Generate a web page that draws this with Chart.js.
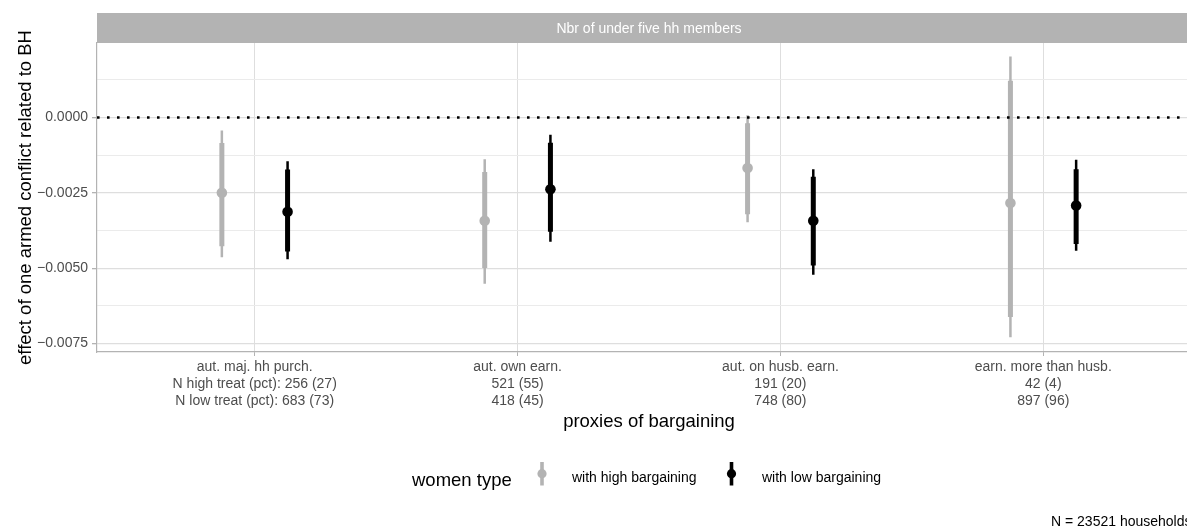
<!DOCTYPE html>
<html>
<head>
<meta charset="utf-8">
<script src="https://cdn.jsdelivr.net/npm/chart.js@4.4.1/dist/chart.umd.min.js"></script>
<style>
  html, body { margin: 0; padding: 0; background: #ffffff; overflow: hidden; width: 1187px; height: 527px; }
  canvas { display: block; }
</style>
</head>
<body>
<canvas id="chart" width="1215" height="527" style="width:1215px;height:527px"></canvas>
<script>
// Proxies of bargaining and household counts per group
const proxies = ['aut. maj. hh purch.', 'aut. own earn.', 'aut. on husb. earn.', 'earn. more than husb.'];
const nHigh = [256, 521, 191, 42];
const pctHigh = [27, 55, 20, 4];
const nLow = [683, 418, 748, 897];
const pctLow = [73, 45, 80, 96];

// Women with high bargaining: estimate, inner interval, outer interval
const highEst     = [-0.00250, -0.00343, -0.00168, -0.00284];
const highInnerLo = [-0.00427, -0.00499, -0.00321, -0.00662];
const highInnerHi = [-0.00085, -0.00181, -0.00019,  0.00122];
const highOuterLo = [-0.00464, -0.00552, -0.00348, -0.00729];
const highOuterHi = [-0.00043, -0.00139,  0.00007,  0.00202];

// Women with low bargaining: estimate, inner interval, outer interval
const lowEst     = [-0.00313, -0.00238, -0.00343, -0.00292];
const lowInnerLo = [-0.00445, -0.00379, -0.00491, -0.00420];
const lowInnerHi = [-0.00173, -0.00084, -0.00197, -0.00172];
const lowOuterLo = [-0.00470, -0.00412, -0.00522, -0.00442];
const lowOuterHi = [-0.00145, -0.00057, -0.00172, -0.00140];

// Y axis breaks
const yLabelTicks = [0, -0.0025, -0.005, -0.0075];
const yMinorTicks = [0.00125, -0.00125, -0.00375, -0.00625];

const FONT = "'Liberation Sans', Arial, Helvetica, sans-serif";
const GREY = '#b3b3b3';
const BLACK = '#000000';
const DODGE = 0.125;

Chart.defaults.font.family = FONT;

function rangeSegments(lo, hi, shift) {
  const pts = [];
  lo.forEach((v, i) => {
    const x = i + 1 + shift;
    pts.push({ x: x, y: v }, { x: x, y: hi[i] }, { x: x, y: null });
  });
  return pts;
}
function estimatePoints(est, shift) {
  return est.map((v, i) => ({ x: i + 1 + shift, y: v }));
}
function isLabelled(v) {
  return yLabelTicks.some(t => Math.abs(t - v) < 1e-9);
}
function fmtY(v) {
  if (Math.abs(v) < 1e-12) return '0.0000';
  return (v < 0 ? '\u2212' : '') + Math.abs(v).toFixed(4);
}

const segStyle = (color, width) => ({
  type: 'line', showLine: true, borderColor: color, backgroundColor: color,
  borderWidth: width, pointRadius: 0, borderCapStyle: 'butt', spanGaps: false, tension: 0
});

const datasets = [
  // zero reference line
  Object.assign(segStyle(BLACK, 2.6), {
    data: [{ x: 0.4, y: 0 }, { x: 4.6, y: 0 }],
    borderDash: [2.6, 7.4]
  }),
  { type: 'scatter', data: estimatePoints(highEst, -DODGE), pointRadius: 5.3,
    pointBackgroundColor: GREY, pointBorderWidth: 0, pointBorderColor: GREY },
  { type: 'scatter', data: estimatePoints(lowEst, DODGE), pointRadius: 5.3,
    pointBackgroundColor: BLACK, pointBorderWidth: 0, pointBorderColor: BLACK },
  Object.assign(segStyle(GREY, 5), { data: rangeSegments(highInnerLo, highInnerHi, -DODGE) }),
  Object.assign(segStyle(BLACK, 5), { data: rangeSegments(lowInnerLo, lowInnerHi, DODGE) }),
  Object.assign(segStyle(GREY, 2.5), { data: rangeSegments(highOuterLo, highOuterHi, -DODGE) }),
  Object.assign(segStyle(BLACK, 2.5), { data: rangeSegments(lowOuterLo, lowOuterHi, DODGE) })
];

// Facet strip, axis titles, legend and caption
const decorations = {
  id: 'decorations',
  beforeDraw(chart) {
    const { ctx, chartArea } = chart;
    ctx.save();
    ctx.fillStyle = GREY;
    ctx.fillRect(chartArea.left, 13, chartArea.right - chartArea.left, 30);
    ctx.fillStyle = '#ffffff';
    ctx.font = '14px ' + FONT;
    ctx.textAlign = 'center';
    ctx.textBaseline = 'alphabetic';
    ctx.fillText('Nbr of under five hh members', (chartArea.left + chartArea.right) / 2, 33.3);
    ctx.restore();
  },
  afterDraw(chart) {
    const { ctx, chartArea } = chart;
    ctx.save();
    ctx.fillStyle = BLACK;
    ctx.textBaseline = 'alphabetic';

    // y title
    ctx.save();
    ctx.translate(31, (chartArea.top + chartArea.bottom) / 2);
    ctx.rotate(-Math.PI / 2);
    ctx.textAlign = 'center';
    ctx.font = '18.5px ' + FONT;
    ctx.fillText('effect of one armed conflict related to BH', 0, 0);
    ctx.restore();

    // x title
    ctx.textAlign = 'center';
    ctx.font = '18.5px ' + FONT;
    ctx.fillText('proxies of bargaining', (chartArea.left + chartArea.right) / 2, 426.5);

    // legend
    ctx.textAlign = 'left';
    ctx.fillText('women type', 412, 486);
    const keys = [
      { x: 542, color: GREY, label: 'with high bargaining', tx: 572 },
      { x: 731.5, color: BLACK, label: 'with low bargaining', tx: 762 }
    ];
    keys.forEach(k => {
      ctx.strokeStyle = k.color;
      ctx.lineWidth = 3.6;
      ctx.lineCap = 'butt';
      ctx.beginPath();
      ctx.moveTo(k.x, 462);
      ctx.lineTo(k.x, 485.5);
      ctx.stroke();
      ctx.fillStyle = k.color;
      ctx.beginPath();
      ctx.arc(k.x, 473.7, 4.6, 0, Math.PI * 2);
      ctx.fill();
      ctx.fillStyle = BLACK;
      ctx.font = '14px ' + FONT;
      ctx.fillText(k.label, k.tx, 482);
    });

    // caption
    ctx.font = '14px ' + FONT;
    ctx.fillText('N = 23521 households', 1051, 526);
    ctx.restore();
  }
};

new Chart(document.getElementById('chart'), {
  type: 'scatter',
  data: { datasets: datasets },
  plugins: [decorations],
  options: {
    responsive: false,
    animation: false,
    events: [],
    layout: { padding: { top: 43, left: 0, right: 14, bottom: 105 } },
    plugins: { legend: { display: false }, tooltip: { enabled: false } },
    scales: {
      x: {
        type: 'linear',
        min: 0.4,
        max: 4.6,
        afterFit: s => { s.height = 70; },
        afterBuildTicks: s => { s.ticks = proxies.map((_, i) => ({ value: i + 1 })); },
        grid: { color: '#dedede', lineWidth: 1, tickColor: GREY, tickLength: 4, drawTicks: true },
        border: { color: GREY, width: 1.2 },
        ticks: {
          autoSkip: false, maxRotation: 0, minRotation: 0,
          padding: 3,
          color: '#4d4d4d',
          font: { size: 14, lineHeight: 17 / 14 },
          callback: v => {
            const i = Math.round(v) - 1;
            if (i < 0 || i >= proxies.length) return '';
            const p1 = i === 0 ? 'N high treat (pct): ' : '';
            const p2 = i === 0 ? 'N low treat (pct): ' : '';
            return [proxies[i], p1 + nHigh[i] + ' (' + pctHigh[i] + ')', p2 + nLow[i] + ' (' + pctLow[i] + ')'];
          }
        }
      },
      y: {
        min: -0.00778,
        max: 0.00247,
        afterFit: s => { s.width = 97; },
        afterBuildTicks: s => {
          s.ticks = yLabelTicks.concat(yMinorTicks).sort((a, b) => b - a).map(v => ({ value: v }));
        },
        grid: {
          color: c => isLabelled(c.tick.value) ? '#dedede' : '#ebebeb',
          lineWidth: c => isLabelled(c.tick.value) ? 1.3 : 1,
          tickColor: c => isLabelled(c.tick.value) ? GREY : 'rgba(0,0,0,0)',
          tickLength: 5
        },
        border: { color: GREY, width: 1.2 },
        ticks: {
          padding: 4,
          color: '#4d4d4d',
          font: { size: 14 },
          callback: v => isLabelled(v) ? fmtY(v) : ''
        }
      }
    }
  }
});
</script>
</body>
</html>
